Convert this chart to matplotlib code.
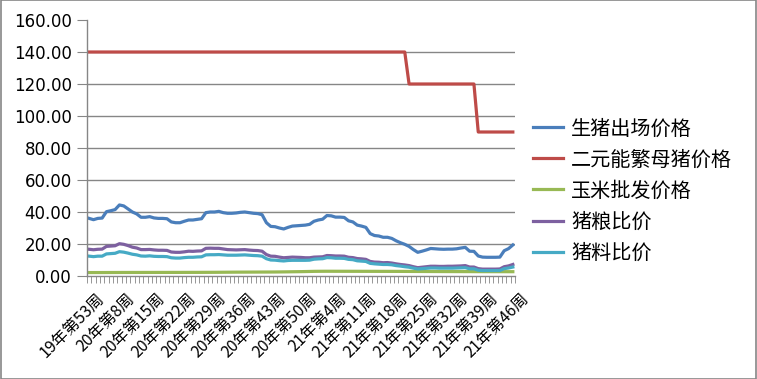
import matplotlib
matplotlib.use("Agg")
import matplotlib.pyplot as plt
from matplotlib.patches import Rectangle
from matplotlib.ticker import FixedLocator, FormatStrFormatter
from matplotlib.transforms import ScaledTranslation

plt.rcParams["font.family"] = ["DejaVu Sans"]
CJK = ["Noto Sans CJK SC", "DejaVu Sans"]

# weekly series, 19年第53周 .. 21年第46周 (99 weeks)
hog_price = [
    36.0, 35.2, 36.0, 36.2, 40.2, 40.8, 41.5, 44.4, 43.8, 41.9,
    40.0, 38.8, 36.7, 36.7, 37.1, 36.3, 36.0, 36.0, 35.8, 33.8,
    33.3, 33.3, 34.2, 35.0, 35.0, 35.4, 35.8, 39.6, 40.0, 40.0,
    40.4, 39.6, 39.2, 39.2, 39.4, 39.8, 40.0, 39.6, 39.2, 39.0,
    38.3, 33.3, 31.0, 30.8, 30.0, 29.4, 30.4, 31.2, 31.4, 31.6,
    31.8, 32.3, 34.2, 35.0, 35.5, 37.8, 37.6, 36.8, 36.8, 36.6,
    34.5, 33.8, 31.8, 31.2, 30.4, 26.5, 25.3, 25.0, 24.2, 24.2,
    23.5, 22.0, 20.8, 19.8, 18.5, 16.5, 14.8, 15.5, 16.3, 17.2,
    17.0, 16.8, 16.7, 16.8, 16.8, 17.0, 17.5, 17.9, 15.5, 15.4,
    12.5, 11.8, 11.7, 11.7, 11.7, 11.8, 15.8, 17.1, 19.4,
]
sow_price = [140.0] * 74 + [120.0] * 16 + [90.0] * 9
corn_price = [
    2.15, 2.15, 2.16, 2.16, 2.17, 2.18, 2.19, 2.20, 2.21, 2.21,
    2.22, 2.22, 2.22, 2.23, 2.23, 2.23, 2.24, 2.24, 2.24, 2.25,
    2.25, 2.25, 2.26, 2.26, 2.27, 2.27, 2.28, 2.29, 2.30, 2.31,
    2.33, 2.35, 2.37, 2.39, 2.41, 2.42, 2.43, 2.44, 2.45, 2.46,
    2.47, 2.48, 2.49, 2.51, 2.54, 2.57, 2.61, 2.65, 2.69, 2.73,
    2.78, 2.84, 2.90, 2.93, 2.95, 2.96, 2.96, 2.95, 2.95, 2.94,
    2.94, 2.93, 2.93, 2.92, 2.92, 2.91, 2.91, 2.90, 2.90, 2.89,
    2.89, 2.88, 2.88, 2.87, 2.86, 2.85, 2.84, 2.83, 2.82, 2.81,
    2.80, 2.79, 2.78, 2.77, 2.77, 2.76, 2.76, 2.75, 2.75, 2.74,
    2.74, 2.73, 2.73, 2.72, 2.72, 2.71, 2.71, 2.70, 2.70,
]
hog_grain_ratio = [
    16.7, 16.4, 16.7, 16.8, 18.5, 18.7, 18.9, 20.2, 19.8, 19.0,
    18.0, 17.5, 16.5, 16.5, 16.6, 16.3, 16.1, 16.1, 16.0, 15.0,
    14.8, 14.8, 15.1, 15.5, 15.4, 15.6, 15.7, 17.3, 17.4, 17.3,
    17.3, 16.9, 16.5, 16.4, 16.3, 16.4, 16.5, 16.2, 16.0, 15.9,
    15.5, 13.4, 12.4, 12.3, 11.8, 11.4, 11.6, 11.8, 11.7, 11.6,
    11.4, 11.4, 11.8, 11.9, 12.0, 12.8, 12.7, 12.5, 12.5, 12.4,
    11.7, 11.5, 10.9, 10.7, 10.4, 9.1, 8.7, 8.6, 8.3, 8.4,
    8.1, 7.6, 7.2, 6.9, 6.5, 5.8, 5.2, 5.5, 5.8, 6.1,
    6.1, 6.0, 6.0, 6.1, 6.1, 6.2, 6.3, 6.5, 5.6, 5.6,
    4.6, 4.3, 4.3, 4.3, 4.3, 4.4, 5.8, 6.3, 7.2,
]
hog_feed_ratio = [
    12.4, 12.1, 12.4, 12.4, 13.8, 14.0, 14.2, 15.2, 14.9, 14.3,
    13.6, 13.2, 12.5, 12.4, 12.6, 12.3, 12.2, 12.2, 12.1, 11.4,
    11.2, 11.2, 11.5, 11.7, 11.7, 11.9, 12.0, 13.2, 13.3, 13.3,
    13.4, 13.2, 13.0, 13.0, 13.0, 13.1, 13.2, 13.0, 12.8, 12.7,
    12.4, 10.8, 10.0, 9.9, 9.6, 9.4, 9.7, 9.8, 9.8, 9.8,
    9.8, 9.9, 10.5, 10.7, 10.8, 11.5, 11.4, 11.1, 11.1, 11.0,
    10.4, 10.2, 9.5, 9.3, 9.1, 7.9, 7.6, 7.4, 7.2, 7.2,
    7.0, 6.5, 6.2, 5.8, 5.5, 4.9, 4.4, 4.6, 4.8, 5.0,
    5.0, 4.9, 4.9, 4.9, 4.9, 5.0, 5.1, 5.2, 4.5, 4.5,
    3.6, 3.4, 3.4, 3.4, 3.4, 3.4, 4.6, 5.0, 5.6,
]

week_labels = [
    "19年第53周", "20年第8周", "20年第15周", "20年第22周", "20年第29周",
    "20年第36周", "20年第43周", "20年第50周", "21年第4周", "21年第11周",
    "21年第18周", "21年第25周", "21年第32周", "21年第39周", "21年第46周",
]
series_names = ["生猪出场价格", "二元能繁母猪价格", "玉米批发价格", "猪粮比价", "猪料比价"]
colors = ["#4A7EBB", "#BE4B48", "#98B954", "#7D60A0", "#46AAC5"]

grey = "#868686"
x = list(range(len(hog_price)))

fig = plt.figure(figsize=(7.57, 3.79), dpi=100)
ax = fig.add_axes([87 / 757, 1 - 276 / 379, (515 - 87) / 757, (276 - 20) / 379])

for vals, name, c in zip(
    [hog_price, sow_price, corn_price, hog_grain_ratio, hog_feed_ratio], series_names, colors
):
    ax.plot(x, vals, color=c, lw=2.3, label=name, solid_joinstyle="round")

ax.set_xlim(-0.5, len(x) - 0.5)
ax.set_ylim(0, 160)
ax.set_yticks(range(0, 161, 20))
ax.yaxis.set_major_formatter(FormatStrFormatter("%.2f"))
for yv in range(20, 141, 20):
    ax.axhline(yv, color=grey, lw=1, zorder=0)

for s in ["top", "right"]:
    ax.spines[s].set_visible(False)
for s in ["left", "bottom"]:
    ax.spines[s].set_color(grey)
    ax.spines[s].set_linewidth(1)

ax.tick_params(axis="y", length=7, color=grey, labelsize=12, pad=4)
ax.set_xticks(range(0, len(x), 7))
ax.set_xticklabels(week_labels, rotation=45, ha="right", va="top",
                   rotation_mode="anchor", family=CJK, fontsize=11.5)
ax.tick_params(axis="x", which="major", length=0, pad=10)
ax.xaxis.set_minor_locator(FixedLocator([i - 0.5 for i in range(len(x) + 1)]))
ax.tick_params(axis="x", which="minor", length=5, color=grey)
shift = ScaledTranslation(7 / 100, 0, fig.dpi_scale_trans)
for lab in ax.get_xticklabels():
    lab.set_transform(lab.get_transform() + shift)

leg = ax.legend(loc="center left", bbox_to_anchor=(533 / 757, 1 - 191 / 379),
                bbox_transform=fig.transFigure, frameon=False,
                prop={"family": CJK, "size": 14.5}, handlelength=1.5,
                handletextpad=0.4, labelspacing=0.5, borderpad=0, borderaxespad=0)

fig.add_artist(Rectangle((0.0007, 0.0013), 0.9986, 0.9974, transform=fig.transFigure,
                         fill=False, edgecolor=grey, lw=1.2))

fig.savefig("out.png", dpi=100)
